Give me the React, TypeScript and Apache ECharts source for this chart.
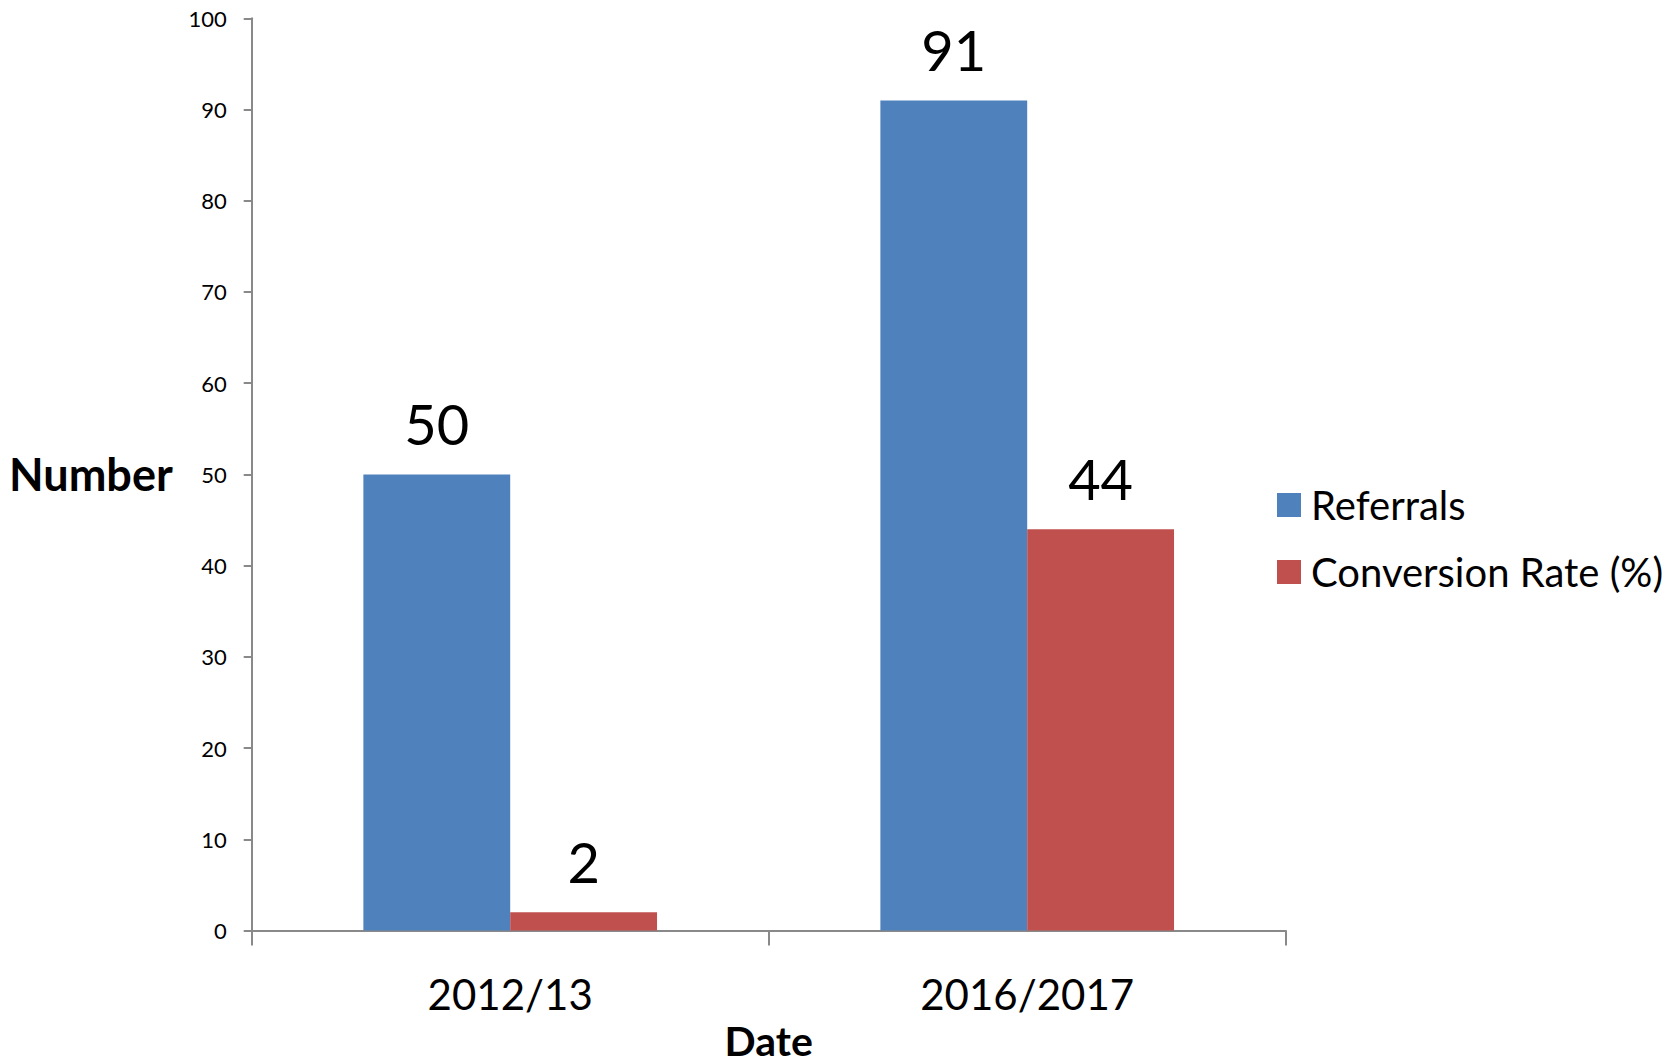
import React, { useEffect, useRef } from "react";
import * as echarts from "echarts";

const categories = ["2012/13", "2016/2017"];
const referrals = [50, 91];
const conversionRate = [2, 44];
const seriesNames = ["Referrals", "Conversion Rate (%)"];

const FONT = "Lato, 'Open Sans', sans-serif";

export default function App() {
  const ref = useRef<HTMLDivElement>(null);
  useEffect(() => {
    if (!ref.current) return;
    const chart = echarts.init(ref.current, undefined, { renderer: "svg" });
    const axisColor = "#898989";
    chart.setOption({
      animation: false,
      backgroundColor: "#ffffff",
      textStyle: { fontFamily: FONT },
      grid: {
        left: 251.7,
        right: 392.3,
        top: 18.3,
        bottom: 133.5,
        containLabel: false,
        outerBoundsMode: "none",
      },
      legend: {
        orient: "vertical",
        left: 1277,
        top: 483,
        padding: 0,
        icon: "rect",
        itemWidth: 24,
        itemHeight: 24,
        itemGap: 23,
        data: seriesNames,
        textStyle: { fontSize: 40, color: "#000", fontFamily: FONT, lineHeight: 44, padding: [0, 0, 0, 5] },
      },
      xAxis: {
        type: "category",
        data: categories,
        name: "Date",
        nameLocation: "middle",
        nameGap: 89,
        nameTextStyle: { fontSize: 41, lineHeight: 41, fontWeight: "bold", color: "#000", fontFamily: FONT },
        axisLine: { lineStyle: { color: axisColor, width: 2 } },
        axisTick: { show: true, length: 15, lineStyle: { color: axisColor, width: 2 } },
        axisLabel: { fontSize: 42, color: "#000", margin: 42, fontFamily: FONT },
        splitLine: { show: false },
      },
      yAxis: {
        type: "value",
        min: 0,
        max: 100,
        interval: 10,
        name: "Number",
        nameLocation: "middle",
        nameRotate: 0,
        nameGap: 79,
        nameTextStyle: { fontSize: 45, fontWeight: "bold", color: "#000", fontFamily: FONT, align: "right" },
        axisLine: { show: true, lineStyle: { color: axisColor, width: 2 } },
        axisTick: { show: true, length: 8, lineStyle: { color: axisColor, width: 2 } },
        axisLabel: { fontSize: 22, color: "#000", margin: 25, fontFamily: FONT },
        splitLine: { show: false },
      },
      series: [
        {
          name: seriesNames[0],
          type: "bar",
          data: referrals,
          barWidth: "28.4%",
          barGap: "0%",
          itemStyle: { color: "#4F81BD" },
          label: { show: true, position: "top", distance: 23, fontSize: 56, color: "#000", fontFamily: FONT },
        },
        {
          name: seriesNames[1],
          type: "bar",
          data: conversionRate,
          barWidth: "28.4%",
          barGap: "0%",
          itemStyle: { color: "#C0504D" },
          label: { show: true, position: "top", distance: 23, fontSize: 56, color: "#000", fontFamily: FONT },
        },
      ],
    });
    return () => chart.dispose();
  }, []);
  return (
    <div
      ref={ref}
      style={{ position: "fixed", left: 0, top: 0, width: 1678, height: 1064, background: "#fff" }}
    />
  );
}
